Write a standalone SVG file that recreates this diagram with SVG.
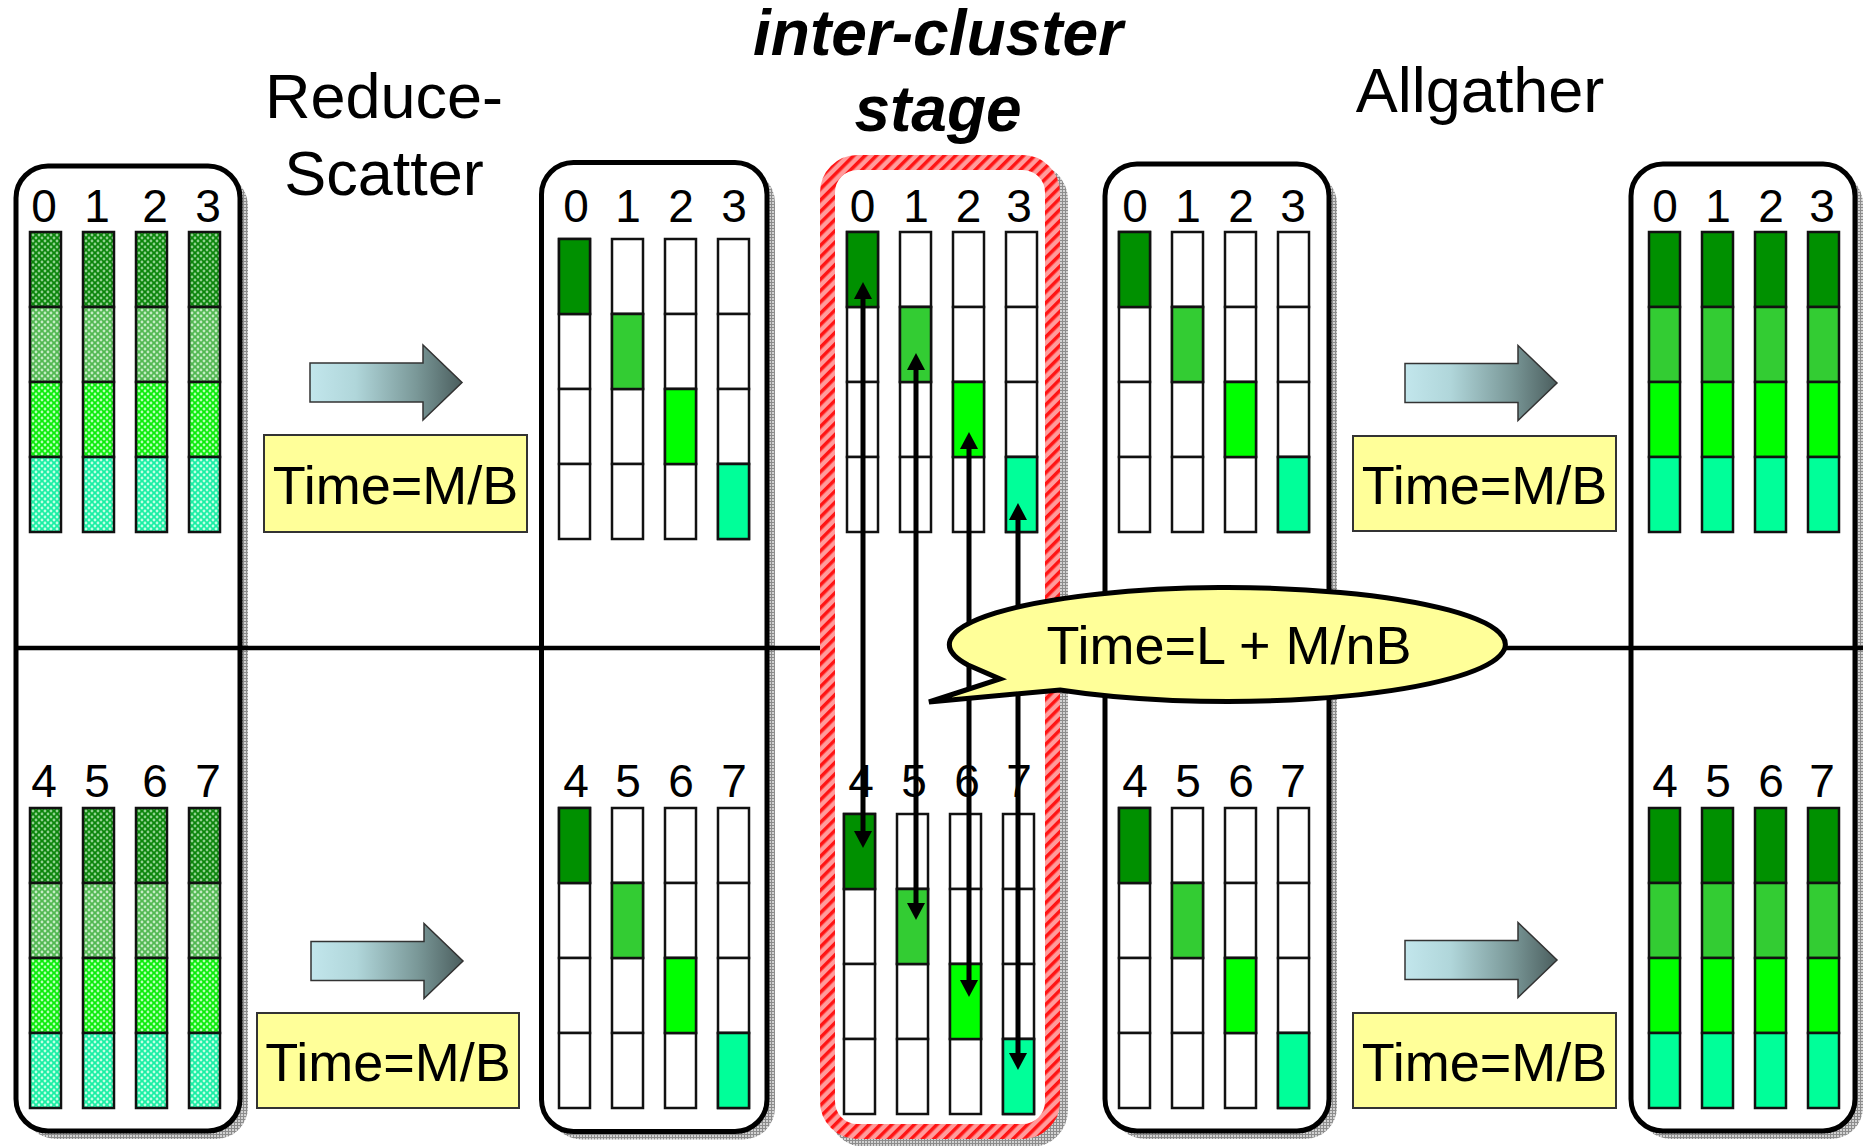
<svg xmlns="http://www.w3.org/2000/svg" xmlns:xlink="http://www.w3.org/1999/xlink" width="1863" height="1146" viewBox="0 0 1863 1146">
  <style>
    text { font-family: "Liberation Sans", Arial, sans-serif; fill: #000; }
    .lbl { font-size: 46px; text-anchor: middle; }
    .title { font-size: 63px; text-anchor: middle; }
    .stage { font-size: 64px; font-weight: bold; font-style: italic; text-anchor: middle; }
    .time { font-size: 54px; text-anchor: middle; }
    .frame { fill: #fff; stroke: #000; stroke-width: 5; }
    .shadow { fill: url(#shade); }
    .c { stroke: #111; stroke-width: 2.5; }
    .tbox { fill: #ffff99; stroke: #333; stroke-width: 2; }
    .bigarrow { fill: url(#steel); stroke: #333; stroke-width: 1.5; }
    .link { fill: none; stroke: #000; stroke-width: 5; marker-start: url(#head); marker-end: url(#head); }
  </style>
  <defs>
    <!-- fine gray grid used for drop shadows -->
    <pattern id="shade" width="3" height="3" patternUnits="userSpaceOnUse">
      <rect width="3" height="3" fill="#d2d2d2"/>
      <rect width="3" height="1" fill="#8c8c8c"/>
      <rect width="1" height="3" fill="#8c8c8c"/>
    </pattern>
    <!-- red diagonal stripes for the highlighted stage -->
    <pattern id="redhatch" width="8" height="8" patternUnits="userSpaceOnUse" patternTransform="rotate(45)">
      <rect width="8" height="8" fill="#ff9c9c"/>
      <rect width="3.5" height="8" fill="#ff1414"/>
    </pattern>
    <!-- dotted textures for the unreduced buffers -->
    <pattern id="t0" width="6" height="6" patternUnits="userSpaceOnUse">
      <rect width="6" height="6" fill="#0b850b"/>
      <circle cx="0" cy="0" r="1.4" fill="#8fd08f"/><circle cx="6" cy="0" r="1.4" fill="#8fd08f"/>
      <circle cx="0" cy="6" r="1.4" fill="#8fd08f"/><circle cx="6" cy="6" r="1.4" fill="#8fd08f"/>
      <circle cx="3" cy="3" r="1.4" fill="#8fd08f"/>
    </pattern>
    <pattern id="t1" width="6" height="6" patternUnits="userSpaceOnUse">
      <rect width="6" height="6" fill="#52b852"/>
      <circle cx="0" cy="0" r="1.4" fill="#c4ebc4"/><circle cx="6" cy="0" r="1.4" fill="#c4ebc4"/>
      <circle cx="0" cy="6" r="1.4" fill="#c4ebc4"/><circle cx="6" cy="6" r="1.4" fill="#c4ebc4"/>
      <circle cx="3" cy="3" r="1.4" fill="#c4ebc4"/>
    </pattern>
    <pattern id="t2" width="6" height="6" patternUnits="userSpaceOnUse">
      <rect width="6" height="6" fill="#0aec0a"/>
      <circle cx="0" cy="0" r="1.4" fill="#b4ffb4"/><circle cx="6" cy="0" r="1.4" fill="#b4ffb4"/>
      <circle cx="0" cy="6" r="1.4" fill="#b4ffb4"/><circle cx="6" cy="6" r="1.4" fill="#b4ffb4"/>
      <circle cx="3" cy="3" r="1.4" fill="#b4ffb4"/>
    </pattern>
    <pattern id="t3" width="6" height="6" patternUnits="userSpaceOnUse">
      <rect width="6" height="6" fill="#1aefa4"/>
      <circle cx="0" cy="0" r="1.4" fill="#c0ffe4"/><circle cx="6" cy="0" r="1.4" fill="#c0ffe4"/>
      <circle cx="0" cy="6" r="1.4" fill="#c0ffe4"/><circle cx="6" cy="6" r="1.4" fill="#c0ffe4"/>
      <circle cx="3" cy="3" r="1.4" fill="#c0ffe4"/>
    </pattern>
    <linearGradient id="steel" x1="0" y1="0" x2="1" y2="0">
      <stop offset="0" stop-color="#c2e6ec"/>
      <stop offset="0.3" stop-color="#b0d6da"/>
      <stop offset="0.7" stop-color="#7a9898"/>
      <stop offset="1" stop-color="#4b5e5e"/>
    </linearGradient>
    <marker id="head" viewBox="0 0 17 18" refX="5" refY="9" markerWidth="17" markerHeight="18" markerUnits="userSpaceOnUse" orient="auto-start-reverse">
      <path d="M0,0 L17,9 L0,18 Z" fill="#000"/>
    </marker>
    <!-- buffer columns: four blocks each -->
    <g id="col-h">
      <rect class="c" x="0" y="0" width="31" height="75" fill="url(#t0)"/>
      <rect class="c" x="0" y="75" width="31" height="75" fill="url(#t1)"/>
      <rect class="c" x="0" y="150" width="31" height="75" fill="url(#t2)"/>
      <rect class="c" x="0" y="225" width="31" height="75" fill="url(#t3)"/>
    </g>
    <g id="col-w">
      <rect class="c" x="0" y="0" width="31" height="75" fill="#fff"/>
      <rect class="c" x="0" y="75" width="31" height="75" fill="#fff"/>
      <rect class="c" x="0" y="150" width="31" height="75" fill="#fff"/>
      <rect class="c" x="0" y="225" width="31" height="75" fill="#fff"/>
    </g>
    <g id="col-s">
      <rect class="c" x="0" y="0" width="31" height="75" fill="#009000"/>
      <rect class="c" x="0" y="75" width="31" height="75" fill="#33cc33"/>
      <rect class="c" x="0" y="150" width="31" height="75" fill="#00ff00"/>
      <rect class="c" x="0" y="225" width="31" height="75" fill="#00ff99"/>
    </g>
    <rect id="b0" class="c" x="0" y="0" width="31" height="75" fill="#009000"/>
    <rect id="b1" class="c" x="0" y="75" width="31" height="75" fill="#33cc33"/>
    <rect id="b2" class="c" x="0" y="150" width="31" height="75" fill="#00ff00"/>
    <rect id="b3" class="c" x="0" y="225" width="31" height="75" fill="#00ff99"/>
  </defs>

  <rect width="1863" height="1146" fill="#fff"/>

  <!-- stage titles -->
  <g id="titles">
    <text class="title" x="384" y="118">Reduce-</text>
    <text class="title" x="384" y="195">Scatter</text>
    <text class="stage" x="938" y="55">inter-cluster</text>
    <text class="stage" x="938" y="131">stage</text>
    <text class="title" x="1480" y="112">Allgather</text>
  </g>

  <!-- initial buffers -->
  <g id="panel-initial">
    <rect class="shadow" x="24" y="174" width="224" height="965" rx="32"/>
    <rect class="frame" x="16" y="166" width="224" height="965" rx="32"/>
    <use href="#col-h" x="30" y="232"/><use href="#col-h" x="83" y="232"/>
    <use href="#col-h" x="136" y="232"/><use href="#col-h" x="189" y="232"/>
    <use href="#col-h" x="30" y="808"/><use href="#col-h" x="83" y="808"/>
    <use href="#col-h" x="136" y="808"/><use href="#col-h" x="189" y="808"/>
    <text class="lbl" x="44" y="222">0</text><text class="lbl" x="97" y="222">1</text>
    <text class="lbl" x="155" y="222">2</text><text class="lbl" x="208" y="222">3</text>
    <text class="lbl" x="44" y="797">4</text><text class="lbl" x="97" y="797">5</text>
    <text class="lbl" x="155" y="797">6</text><text class="lbl" x="208" y="797">7</text>
  </g>

  <!-- after reduce-scatter -->
  <g id="panel-scattered">
    <rect class="shadow" x="549.5" y="170.5" width="225.5" height="969" rx="32"/>
    <rect class="frame" x="541.5" y="162.5" width="225.5" height="969" rx="32"/>
    <use href="#col-w" x="559" y="239"/><use href="#col-w" x="612" y="239"/>
    <use href="#col-w" x="665" y="239"/><use href="#col-w" x="718" y="239"/>
    <use href="#b0" x="559" y="239"/><use href="#b1" x="612" y="239"/>
    <use href="#b2" x="665" y="239"/><use href="#b3" x="718" y="239"/>
    <use href="#col-w" x="559" y="808"/><use href="#col-w" x="612" y="808"/>
    <use href="#col-w" x="665" y="808"/><use href="#col-w" x="718" y="808"/>
    <use href="#b0" x="559" y="808"/><use href="#b1" x="612" y="808"/>
    <use href="#b2" x="665" y="808"/><use href="#b3" x="718" y="808"/>
    <text class="lbl" x="576" y="222">0</text><text class="lbl" x="628" y="222">1</text>
    <text class="lbl" x="681" y="222">2</text><text class="lbl" x="734" y="222">3</text>
    <text class="lbl" x="576" y="797">4</text><text class="lbl" x="628" y="797">5</text>
    <text class="lbl" x="681" y="797">6</text><text class="lbl" x="734" y="797">7</text>
  </g>

  <!-- before allgather -->
  <g id="panel-exchanged">
    <rect class="shadow" x="1113" y="172" width="224" height="967" rx="32"/>
    <rect class="frame" x="1105" y="164" width="224" height="967" rx="32"/>
    <use href="#col-w" x="1119" y="232"/><use href="#col-w" x="1172" y="232"/>
    <use href="#col-w" x="1225" y="232"/><use href="#col-w" x="1278" y="232"/>
    <use href="#b0" x="1119" y="232"/><use href="#b1" x="1172" y="232"/>
    <use href="#b2" x="1225" y="232"/><use href="#b3" x="1278" y="232"/>
    <use href="#col-w" x="1119" y="808"/><use href="#col-w" x="1172" y="808"/>
    <use href="#col-w" x="1225" y="808"/><use href="#col-w" x="1278" y="808"/>
    <use href="#b0" x="1119" y="808"/><use href="#b1" x="1172" y="808"/>
    <use href="#b2" x="1225" y="808"/><use href="#b3" x="1278" y="808"/>
    <text class="lbl" x="1135" y="222">0</text><text class="lbl" x="1188" y="222">1</text>
    <text class="lbl" x="1241" y="222">2</text><text class="lbl" x="1293" y="222">3</text>
    <text class="lbl" x="1135" y="797">4</text><text class="lbl" x="1188" y="797">5</text>
    <text class="lbl" x="1241" y="797">6</text><text class="lbl" x="1293" y="797">7</text>
  </g>

  <!-- final buffers -->
  <g id="panel-final">
    <rect class="shadow" x="1639" y="172" width="224" height="967" rx="32"/>
    <rect class="frame" x="1631" y="164" width="224" height="967" rx="32"/>
    <use href="#col-s" x="1649" y="232"/><use href="#col-s" x="1702" y="232"/>
    <use href="#col-s" x="1755" y="232"/><use href="#col-s" x="1808" y="232"/>
    <use href="#col-s" x="1649" y="808"/><use href="#col-s" x="1702" y="808"/>
    <use href="#col-s" x="1755" y="808"/><use href="#col-s" x="1808" y="808"/>
    <text class="lbl" x="1665" y="222">0</text><text class="lbl" x="1718" y="222">1</text>
    <text class="lbl" x="1771" y="222">2</text><text class="lbl" x="1822" y="222">3</text>
    <text class="lbl" x="1665" y="797">4</text><text class="lbl" x="1718" y="797">5</text>
    <text class="lbl" x="1771" y="797">6</text><text class="lbl" x="1822" y="797">7</text>
  </g>

  <!-- step arrows with their cost labels -->
  <g id="step-rs-top">
    <polygon class="bigarrow" points="310,363 423,363 423,345 462,382.5 423,420 423,402 310,402"/>
    <rect class="tbox" x="264" y="435" width="263" height="97"/>
    <text class="time" x="395.5" y="504">Time=M/B</text>
  </g>
  <g id="step-rs-bottom">
    <polygon class="bigarrow" points="311,941.5 424,941.5 424,923.5 463,961 424,998.5 424,980.5 311,980.5"/>
    <rect class="tbox" x="257" y="1013" width="262" height="95"/>
    <text class="time" x="388" y="1081">Time=M/B</text>
  </g>
  <g id="step-ag-top">
    <polygon class="bigarrow" points="1405,363.5 1518,363.5 1518,345.5 1557,383 1518,420.5 1518,402.5 1405,402.5"/>
    <rect class="tbox" x="1353" y="436" width="263" height="95"/>
    <text class="time" x="1484.5" y="504">Time=M/B</text>
  </g>
  <g id="step-ag-bottom">
    <polygon class="bigarrow" points="1405,940.5 1518,940.5 1518,922.5 1557,960 1518,997.5 1518,979.5 1405,979.5"/>
    <rect class="tbox" x="1353" y="1013" width="263" height="95"/>
    <text class="time" x="1484.5" y="1081">Time=M/B</text>
  </g>

  <!-- cluster boundary -->
  <g id="divider">
    <line x1="16" y1="648" x2="1863" y2="648" stroke="#000" stroke-width="4.5"/>
  </g>

  <!-- inter-cluster exchange -->
  <g id="panel-inter">
    <rect class="shadow" x="828" y="163" width="240" height="984" rx="37"/>
    <rect x="827.5" y="162.5" width="225" height="969" rx="30" fill="#fff" stroke="url(#redhatch)" stroke-width="15"/>
    <use href="#col-w" x="847" y="232"/><use href="#col-w" x="900" y="232"/>
    <use href="#col-w" x="953" y="232"/><use href="#col-w" x="1006" y="232"/>
    <use href="#b0" x="847" y="232"/><use href="#b1" x="900" y="232"/>
    <use href="#b2" x="953" y="232"/><use href="#b3" x="1006" y="232"/>
    <use href="#col-w" x="844" y="814"/><use href="#col-w" x="897" y="814"/>
    <use href="#col-w" x="950" y="814"/><use href="#col-w" x="1003" y="814"/>
    <use href="#b0" x="844" y="814"/><use href="#b1" x="897" y="814"/>
    <use href="#b2" x="950" y="814"/><use href="#b3" x="1003" y="814"/>
    <text class="lbl" x="862.5" y="222">0</text><text class="lbl" x="916" y="222">1</text>
    <text class="lbl" x="968.5" y="222">2</text><text class="lbl" x="1019" y="222">3</text>
    <text class="lbl" x="861" y="797">4</text><text class="lbl" x="914" y="797">5</text>
    <text class="lbl" x="967" y="797">6</text><text class="lbl" x="1019" y="797">7</text>
  </g>

  <!-- pairwise transfers between the two clusters -->
  <g id="connectors">
    <line class="link" x1="863" y1="294" x2="863" y2="836"/>
    <line class="link" x1="916" y1="365" x2="916" y2="908"/>
    <line class="link" x1="969" y1="444" x2="969" y2="985"/>
    <line class="link" x1="1018" y1="515" x2="1018" y2="1058"/>
  </g>

  <!-- cost callout -->
  <g id="callout">
    <path d="M1060,690 A278,57 0 1 0 968,665 L1000,679 L929,702 Z" fill="#ffff99" stroke="#000" stroke-width="5"/>
    <text class="time" x="1229" y="664">Time=L + M/nB</text>
  </g>
</svg>
